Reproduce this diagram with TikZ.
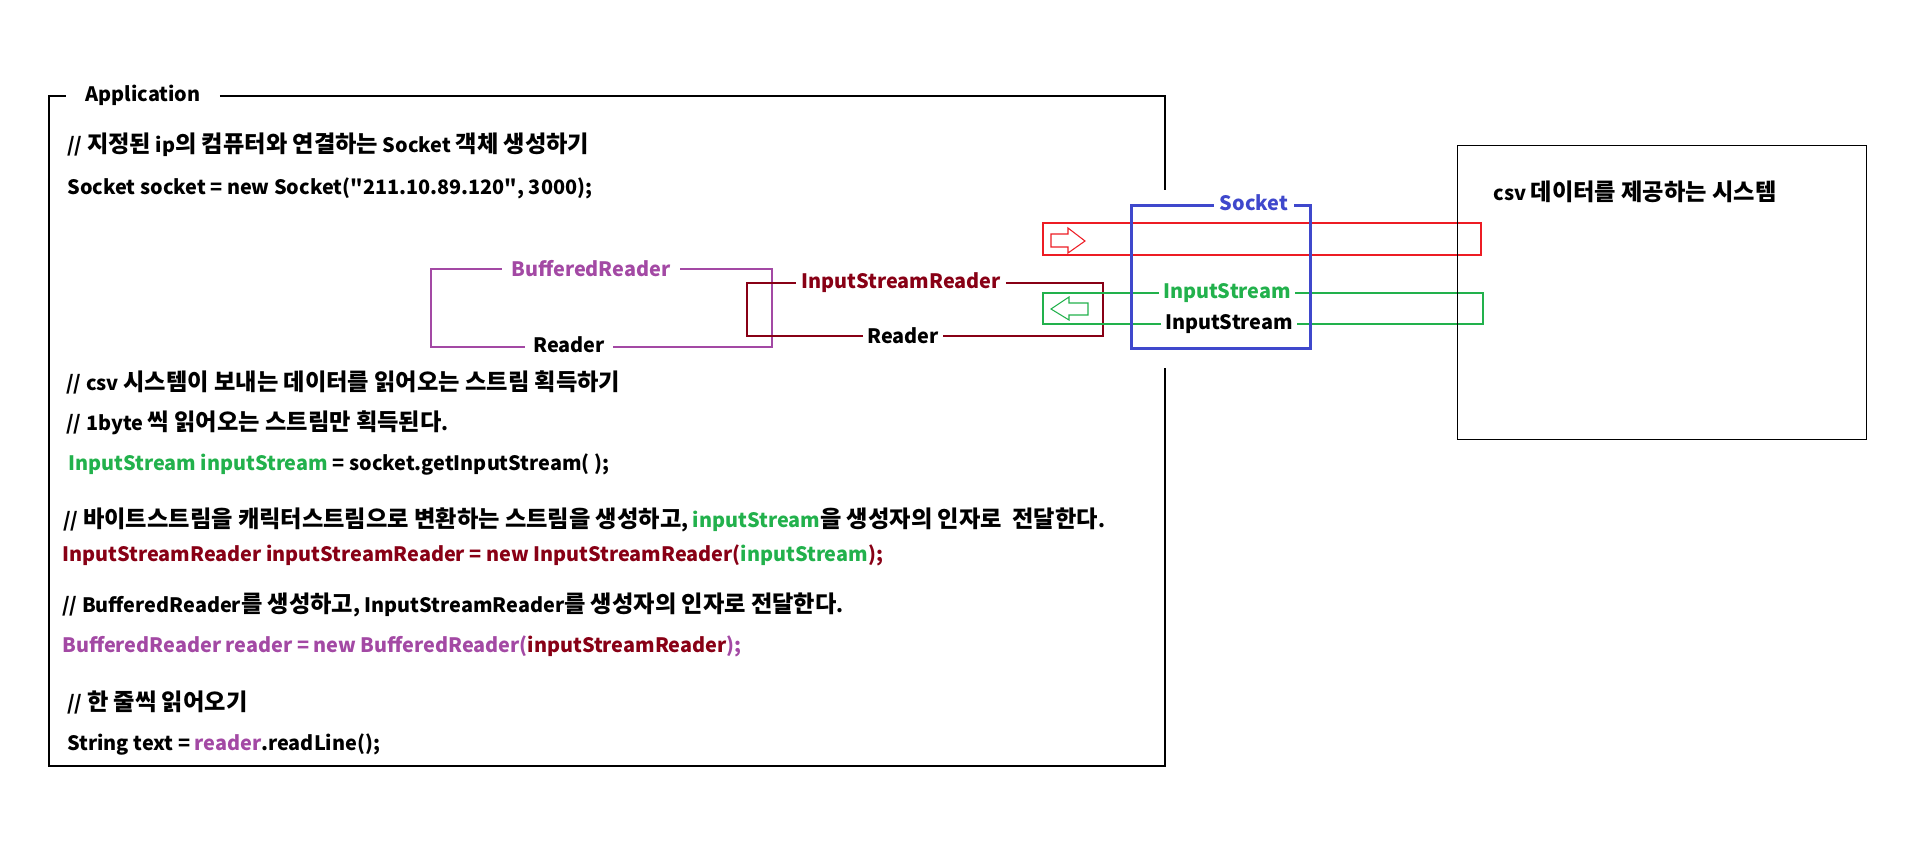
\documentclass[tikz,border=0pt]{standalone}
\usepackage{fontspec}
\setmainfont{Noto Sans CJK KR}
\newfontfamily\korfont{Noto Sans CJK KR}[Scale=1.17]
\newcommand{\ko}[1]{{\korfont #1}}
\definecolor{bufpurple}{RGB}{163,73,164}
\definecolor{isrred}{RGB}{136,0,21}
\definecolor{isgreen}{RGB}{34,177,76}
\definecolor{outred}{RGB}{237,28,36}
\definecolor{sockblue}{RGB}{63,72,204}
\newcommand{\pxu}{0.02cm}

\begin{document}
\begin{tikzpicture}[x=0.02cm, y=-0.02cm,
    txt/.style={font=\fontsize{11.3}{13}\selectfont\bfseries, text height=0.8em, text depth=0.2em},
    code/.style={txt, anchor=west, inner sep=0pt},
    tag/.style={txt, inner sep=0pt},
    thinline/.style={line width=0.6pt}]
    \useasboundingbox (0,0) rectangle (1912,867);

    % Application frame
    \node[tag, minimum width=153*\pxu] (apptitle) at (143,96) {Application};
    \draw[thinline] (apptitle.east) -- (1165,96) -- (1165,190);
    \draw[thinline] (1165,368) -- (1165,766) -- (49,766) -- (49,96) -- (apptitle.west);

    % Code lines
    \node[code] (c1) at (67,147) {// \ko{지정된} ip\ko{의 컴퓨터와 연결하는} Socket \ko{객체 생성하기}};
    \node[code] (c2) at (67,189) {Socket socket = new Socket(\textquotedbl 211.10.89.120\textquotedbl, 3000);};
    \node[code] (c3) at (66,385) {// csv \ko{시스템이 보내는 데이터를 읽어오는 스트림 획득하기}};
    \node[code] (c4) at (66,425) {// 1byte \ko{씩 읽어오는 스트림만 획득된다}.};
    \node[code] (c5) at (68,465) {\textcolor{isgreen}{InputStream inputStream} = socket.getInputStream( );};
    \node[code] (c6) at (63,522) {// \ko{바이트스트림을 캐릭터스트림으로 변환하는 스트림을 생성하고}, \textcolor{isgreen}{inputStream}\ko{을 생성자의 인자로\ \ 전달한다}.};
    \node[code, text=isrred] (c7) at (62,556) {InputStreamReader inputStreamReader = new InputStreamReader(\textcolor{isgreen}{inputStream});};
    \node[code] (c8) at (62,607) {// BufferedReader\ko{를 생성하고}, InputStreamReader\ko{를 생성자의 인자로 전달한다}.};
    \node[code, text=bufpurple] (c9) at (62,647) {BufferedReader reader = new BufferedReader(\textcolor{isrred}{inputStreamReader});};
    \node[code] (c10) at (67,705) {// \ko{한 줄씩 읽어오기}};
    \node[code] (c11) at (67,745) {String text = \textcolor{bufpurple}{reader}.readLine();};

    % BufferedReader box
    \node[tag, text=bufpurple, text height=1.1em, minimum width=178*\pxu] (buflbl) at (591,269) {BufferedReader};
    \node[tag, minimum width=88*\pxu] (rdlblA) at (569,347) {Reader};
    \draw[thinline, bufpurple] (buflbl.east) -- (772,269) -- (772,347) -- (rdlblA.east);
    \draw[thinline, bufpurple] (rdlblA.west) -- (431,347) -- (431,269) -- (buflbl.west);

    % InputStreamReader box
    \node[tag, text=isrred, minimum width=209*\pxu] (isrlbl) at (901,283) {InputStreamReader};
    \node[tag, text height=1.0em, minimum width=79*\pxu] (rdlblB) at (903,336) {Reader};
    \draw[thinline, isrred] (isrlbl.east) -- (1103,283) -- (1103,336) -- (rdlblB.east);
    \draw[thinline, isrred] (rdlblB.west) -- (747,336) -- (747,283) -- (isrlbl.west);

    % output line (red)
    \draw[thinline, outred] (1043,223) rectangle (1481,255);
    \draw[thinline, outred] (1051,234) -- (1068,234) -- (1068,228) -- (1085,241)
        -- (1068,253) -- (1068,247) -- (1051,247) -- cycle;

    % input line (green)
    \node[tag, text=isgreen, minimum width=136*\pxu] (islblA) at (1227,293) {InputStream};
    \node[tag, minimum width=135*\pxu] (islblB) at (1229,324) {InputStream};
    \draw[thinline, isgreen] (islblA.west) -- (1043,293) -- (1043,324) -- (islblB.west);
    \draw[thinline, isgreen] (islblA.east) -- (1483,293) -- (1483,324) -- (islblB.east);
    \draw[thinline, isgreen] (1051,309) -- (1069,297) -- (1069,303) -- (1088,303)
        -- (1088,315) -- (1069,315) -- (1069,320) -- cycle;

    % Socket box
    \node[tag, text=sockblue, minimum width=80*\pxu] (socklbl) at (1254,205) {Socket};
    \draw[line width=1.7pt, sockblue] (socklbl.east) -- (1310,205) -- (1310,348)
        -- (1131,348) -- (1131,205) -- (socklbl.west);

    % csv system
    \node[draw, thinline, anchor=north west, minimum width=409*\pxu, minimum height=294*\pxu] (sysbox) at (1457,145) {};
    \node[code] (systxt) at (1493,195) {csv \ko{데이터를 제공하는 시스템}};
\end{tikzpicture}
\end{document}
